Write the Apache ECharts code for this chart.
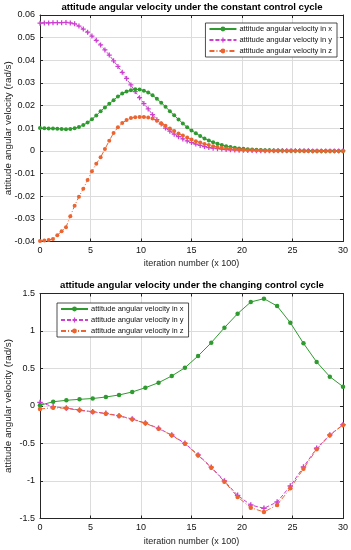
<!DOCTYPE html>
<html><head><meta charset="utf-8">
<script src="https://cdn.jsdelivr.net/npm/echarts@6/dist/echarts.min.js"></script>
<style>html,body{margin:0;padding:0;background:#fff}#c{width:351px;height:550px}</style>
</head><body><div id="c"></div>
<script>
// ---- data ----
const topStep = 30 / 70;   // iteration spacing (x 100) of the top chart samples
const botStep = 30 / 23;   // iteration spacing (x 100) of the bottom chart samples
const seriesNames = ['attitude angular velocity in x','attitude angular velocity in y','attitude angular velocity in z'];
const topTitle = 'attitude angular velocity under the constant control cycle';
const botTitle = 'attitude angular velocity under the changing control cycle';
const xName = 'iteration number (x 100)';
const yName = 'attitude angular velocity (rad/s)';

const topX = [0.0101,0.0100,0.0099,0.0099,0.0098,0.0097,0.0096,0.0097,0.0100,0.0106,
  0.0114,0.0125,0.0140,0.0156,0.0175,0.0192,0.0208,0.0224,0.0240,0.0253,
  0.0262,0.0268,0.0272,0.0271,0.0266,0.0258,0.0246,0.0230,0.0213,0.0195,
  0.0175,0.0157,0.0139,0.0121,0.0104,0.0090,0.0078,0.0066,0.0055,0.0046,
  0.0038,0.0032,0.0026,0.0021,0.0017,0.0014,0.0011,0.0009,0.0007,0.0006,
  0.0005,0.0004,0.0003,0.0003,0.0002,0.0002,0.0002,0.0001,0.0001,0.0001,
  0.0001,0.0001,0.0001,0,0,0,0,0,0,0,0];
const topY = [0.0564,0.0565,0.0565,0.0566,0.0566,0.0566,0.0567,0.0565,0.0561,0.0551,
  0.0538,0.0524,0.0507,0.0488,0.0468,0.0446,0.0423,0.0398,0.0373,0.0347,
  0.0320,0.0291,0.0262,0.0235,0.0209,0.0185,0.0160,0.0138,0.0119,0.0101,
  0.0087,0.0074,0.0063,0.0053,0.0044,0.0037,0.0030,0.0024,0.0019,0.0015,
  0.0012,0.0010,0.0008,0.0006,0.0005,0.0004,0.0003,0.0003,0.0002,0.0002,
  0.0001,0.0001,0.0001,0.0001,0.0001,0.0001,0.0001,0.0001,0.0001,0.0001,
  0.0001,0.0001,0.0001,0,0,0,0,0,0,0,0];
const topZ = [-0.0398,-0.0396,-0.0393,-0.0389,-0.0372,-0.0355,-0.0337,-0.0288,-0.0242,-0.0202,
  -0.0167,-0.0128,-0.0090,-0.0057,-0.0028,0.0008,0.0045,0.0079,0.0104,0.0123,
  0.0136,0.0145,0.0149,0.0150,0.0150,0.0148,0.0143,0.0133,0.0122,0.0111,
  0.0099,0.0088,0.0077,0.0068,0.0059,0.0050,0.0043,0.0037,0.0031,0.0026,
  0.0021,0.0017,0.0014,0.0011,0.0009,0.0007,0.0005,0.0004,0.0003,0.0003,
  0.0002,0.0002,0.0001,0.0001,0.0001,0.0001,0.0001,0.0001,0.0001,0.0001,
  0.0001,0,0,0,0,0,0,0,0,0,0];

const botX = [0.010,0.057,0.076,0.089,0.100,0.120,0.147,0.187,0.244,0.311,0.400,0.510,
  0.667,0.844,1.044,1.231,1.387,1.431,1.333,1.111,0.836,0.587,0.391,0.258];
const botY = [0.048,-0.010,-0.027,-0.054,-0.076,-0.098,-0.129,-0.174,-0.227,-0.298,-0.387,-0.497,
  -0.652,-0.815,-1.000,-1.191,-1.320,-1.364,-1.280,-1.067,-0.813,-0.564,-0.385,-0.250];
const botZ = [-0.040,-0.022,-0.031,-0.058,-0.080,-0.102,-0.133,-0.178,-0.231,-0.302,-0.391,-0.502,
  -0.658,-0.822,-1.009,-1.213,-1.356,-1.413,-1.320,-1.098,-0.836,-0.578,-0.391,-0.253];

// ---- styling ----
const FONT = 'Liberation Sans, Arial, sans-serif';
const cGreen = '#2f9a2f', cMag = '#cc3fd0', cOrg = '#ec6430';
const plusPath = 'path://M3,0 H5 V3 H8 V5 H5 V8 H3 V5 H0 V3 H3 Z';
const pairs = (arr, step) => arr.map((v, i) => [i * step, v]);
const frame = {onZero: false, lineStyle: {color: '#262626', width: 1}};
const tick = {show: true, inside: true, length: 3, lineStyle: {color: '#262626'}};
const gridLine = {show: true, lineStyle: {color: '#dcdcdc', width: 1}};

function xAxes(gi, gap) {
  return [{
    gridIndex: gi, type: 'value', min: 0, max: 30, interval: 5,
    name: xName, nameLocation: 'middle', nameGap: gap, nameMoveOverlap: false,
    nameTextStyle: {fontSize: 9, color: '#222', fontFamily: FONT},
    axisLine: frame, axisTick: tick,
    axisLabel: {fontSize: 9, color: '#111', margin: 5, fontFamily: FONT},
    splitLine: gridLine
  }, {
    gridIndex: gi, type: 'value', min: 0, max: 30, interval: 5, position: 'top',
    axisLine: frame, axisTick: tick,
    axisLabel: {show: false}, splitLine: {show: false}
  }];
}
function yAxes(gi, min, max, interval) {
  return [{
    gridIndex: gi, type: 'value', min, max, interval,
    name: yName, nameLocation: 'middle', nameGap: 27, nameRotate: 90, nameMoveOverlap: false,
    nameTextStyle: {fontSize: 9.8, color: '#222', fontFamily: FONT},
    axisLine: Object.assign({show: true}, frame), axisTick: tick,
    axisLabel: {fontSize: 9, color: '#111', margin: 5, fontFamily: FONT},
    splitLine: gridLine
  }, {
    gridIndex: gi, type: 'value', min, max, interval, position: 'right',
    axisLine: Object.assign({show: true}, frame), axisTick: tick,
    axisLabel: {show: false}, splitLine: {show: false}
  }];
}
function mkSeries(gi, step, xs, ys, zs, symSize) {
  const xi = gi * 2, yi = gi * 2;
  return [
    {name: seriesNames[0], type: 'line', xAxisIndex: xi, yAxisIndex: yi, data: pairs(xs, step),
     symbol: 'circle', symbolSize: symSize, showSymbol: true, z: 3,
     lineStyle: {color: cGreen, width: 1}, itemStyle: {color: cGreen}},
    {name: seriesNames[1], type: 'line', xAxisIndex: xi, yAxisIndex: yi, data: pairs(ys, step),
     symbol: plusPath, symbolSize: symSize + 1, showSymbol: true, z: 2,
     lineStyle: {color: cMag, width: 1, type: [4, 2]}, itemStyle: {color: cMag}},
    {name: seriesNames[2], type: 'line', xAxisIndex: xi, yAxisIndex: yi, data: pairs(zs, step),
     symbol: 'circle', symbolSize: symSize, showSymbol: true, z: 4,
     lineStyle: {color: cOrg, width: 1, type: [5, 2, 1, 2]}, itemStyle: {color: cOrg}}
  ];
}
const legendBase = {
  orient: 'vertical', selectedMode: false, data: seriesNames,
  itemWidth: 27, itemHeight: 6, itemGap: 3,
  backgroundColor: '#fff', borderColor: '#222', borderWidth: 0.8,
  padding: [2, 5, 2, 3], borderRadius: 0,
  textStyle: {fontSize: 7.5, color: '#111', fontFamily: FONT, padding: [0, 0, 0, -2]}
};

const option = {
  animation: false,
  backgroundColor: '#fff',
  title: [
    {text: topTitle, left: 192, textAlign: 'center', top: 2, padding: 0,
     textStyle: {fontSize: 9.6, fontWeight: 'bold', color: '#000', fontFamily: FONT}},
    {text: botTitle, left: 192, textAlign: 'center', top: 280, padding: 0,
     textStyle: {fontSize: 9.6, fontWeight: 'bold', color: '#000', fontFamily: FONT}}
  ],
  legend: [
    Object.assign({}, legendBase, {right: 14, top: 23}),
    Object.assign({}, legendBase, {left: 57, top: 303})
  ],
  grid: [
    {left: 40, right: 8, top: 15, height: 226.5, containLabel: false, outerBoundsMode: 'none'},
    {left: 40, right: 8, top: 293.5, height: 225, containLabel: false, outerBoundsMode: 'none'}
  ],
  xAxis: xAxes(0, 18).concat(xAxes(1, 19)),
  yAxis: yAxes(0, -0.04, 0.06, 0.01).concat(yAxes(1, -1.5, 1.5, 0.5)),
  series: mkSeries(0, topStep, topX, topY, topZ, 4).concat(mkSeries(1, botStep, botX, botY, botZ, 4.5))
};
const chart = echarts.init(document.getElementById('c'), null, {renderer: 'canvas'});
chart.setOption(option);
</script></body></html>
